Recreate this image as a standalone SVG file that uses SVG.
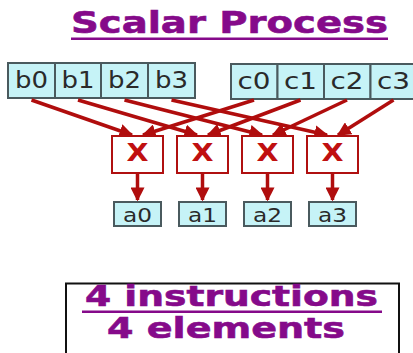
<svg xmlns="http://www.w3.org/2000/svg" width="413" height="353" viewBox="0 0 413 353">
<defs>
<style>
.cell{fill:#c6f3f7;stroke:#4a5a5e;stroke-width:2}
.lbl{font-family:"DejaVu Sans",Verdana,sans-serif;font-size:23px;fill:#2a2a2a;text-anchor:middle}
.albl{font-family:"DejaVu Sans",Verdana,sans-serif;font-size:20px;fill:#2a2a2a;text-anchor:middle}
.mul{fill:#fff;stroke:#b01010;stroke-width:2}
.x{font-family:"DejaVu Sans",Verdana,sans-serif;font-weight:bold;font-size:24px;fill:#c01010;text-anchor:middle}
.wire{stroke:#b00d0d;stroke-width:3.5;fill:none;marker-end:url(#ah)}
.purple{font-family:"DejaVu Sans",Verdana,sans-serif;font-weight:bold;fill:#850a8a;stroke:#850a8a;stroke-width:0.6}
</style>
<marker id="ah" viewBox="0 0 10 10" refX="9" refY="5" markerWidth="4" markerHeight="4" orient="auto" markerUnits="strokeWidth">
<path d="M0,0 L10,5 L0,10 z" fill="#b00d0d"/>
</marker>
</defs>
<rect width="413" height="353" fill="#fff"/>
<g id="title">
<text class="purple" x="71" y="33" font-size="31" textLength="317" lengthAdjust="spacingAndGlyphs">Scalar Process</text>
<rect x="71" y="37.5" width="317" height="2.5" fill="#850a8a"/>
</g>
<g id="b-vector">
<rect class="cell" x="8" y="63" width="47" height="35"/>
<rect class="cell" x="55" y="63" width="46" height="35"/>
<rect class="cell" x="101" y="63" width="47" height="35"/>
<rect class="cell" x="148" y="63" width="47" height="35"/>
<text class="lbl" x="31.5" y="88" textLength="33" lengthAdjust="spacingAndGlyphs">b0</text>
<text class="lbl" x="78" y="88" textLength="33" lengthAdjust="spacingAndGlyphs">b1</text>
<text class="lbl" x="124.5" y="88" textLength="33" lengthAdjust="spacingAndGlyphs">b2</text>
<text class="lbl" x="171.5" y="88" textLength="33" lengthAdjust="spacingAndGlyphs">b3</text>
</g>
<g id="c-vector">
<rect class="cell" x="231" y="64" width="46.5" height="35"/>
<rect class="cell" x="277.5" y="64" width="46.5" height="35"/>
<rect class="cell" x="324" y="64" width="46.5" height="35"/>
<rect class="cell" x="370.5" y="64" width="46.5" height="35"/>
<text class="lbl" x="254" y="89" textLength="33" lengthAdjust="spacingAndGlyphs">c0</text>
<text class="lbl" x="300.5" y="89" textLength="33" lengthAdjust="spacingAndGlyphs">c1</text>
<text class="lbl" x="347" y="89" textLength="33" lengthAdjust="spacingAndGlyphs">c2</text>
<text class="lbl" x="393.5" y="89" textLength="33" lengthAdjust="spacingAndGlyphs">c3</text>
</g>
<g id="connectors">
<line class="wire" x1="31.5" y1="100" x2="132" y2="135"/>
<line class="wire" x1="78" y1="100" x2="197" y2="135"/>
<line class="wire" x1="124.5" y1="100" x2="262" y2="135"/>
<line class="wire" x1="171.5" y1="100" x2="327" y2="135"/>
<line class="wire" x1="254" y1="100" x2="143" y2="135"/>
<line class="wire" x1="300.5" y1="100" x2="208" y2="135"/>
<line class="wire" x1="347" y1="100" x2="273" y2="135"/>
<line class="wire" x1="393.5" y1="100" x2="338" y2="135"/>
<line class="wire" x1="137.5" y1="174" x2="137.5" y2="200"/>
<line class="wire" x1="202.5" y1="174" x2="202.5" y2="200"/>
<line class="wire" x1="267.5" y1="174" x2="267.5" y2="200"/>
<line class="wire" x1="332.5" y1="174" x2="332.5" y2="200"/>
</g>
<g id="mul0"><rect class="mul" x="112" y="136" width="51" height="37"/><text class="x" x="137.5" y="161" textLength="22" lengthAdjust="spacingAndGlyphs">X</text></g>
<g id="mul1"><rect class="mul" x="177" y="136" width="51" height="37"/><text class="x" x="202.5" y="161" textLength="22" lengthAdjust="spacingAndGlyphs">X</text></g>
<g id="mul2"><rect class="mul" x="242" y="136" width="51" height="37"/><text class="x" x="267.5" y="161" textLength="22" lengthAdjust="spacingAndGlyphs">X</text></g>
<g id="mul3"><rect class="mul" x="307" y="136" width="51" height="37"/><text class="x" x="332.5" y="161" textLength="22" lengthAdjust="spacingAndGlyphs">X</text></g>
<g id="a0"><rect class="cell" x="114" y="202" width="47" height="24"/><text class="albl" x="137.5" y="221.5" textLength="29" lengthAdjust="spacingAndGlyphs">a0</text></g>
<g id="a1"><rect class="cell" x="179" y="202" width="47" height="24"/><text class="albl" x="202.5" y="221.5" textLength="29" lengthAdjust="spacingAndGlyphs">a1</text></g>
<g id="a2"><rect class="cell" x="244" y="202" width="47" height="24"/><text class="albl" x="267.5" y="221.5" textLength="29" lengthAdjust="spacingAndGlyphs">a2</text></g>
<g id="a3"><rect class="cell" x="309" y="202" width="47" height="24"/><text class="albl" x="332.5" y="221.5" textLength="29" lengthAdjust="spacingAndGlyphs">a3</text></g>
<g id="summary">
<rect x="66" y="283.5" width="333" height="80" fill="#fff" stroke="#111" stroke-width="2"/>
<text class="purple" x="85" y="306" font-size="29" textLength="293" lengthAdjust="spacingAndGlyphs">4 instructions</text>
<rect x="82" y="310.5" width="300" height="2.5" fill="#850a8a"/>
<text class="purple" x="107" y="338" font-size="29" textLength="238" lengthAdjust="spacingAndGlyphs">4 elements</text>
</g>
</svg>
